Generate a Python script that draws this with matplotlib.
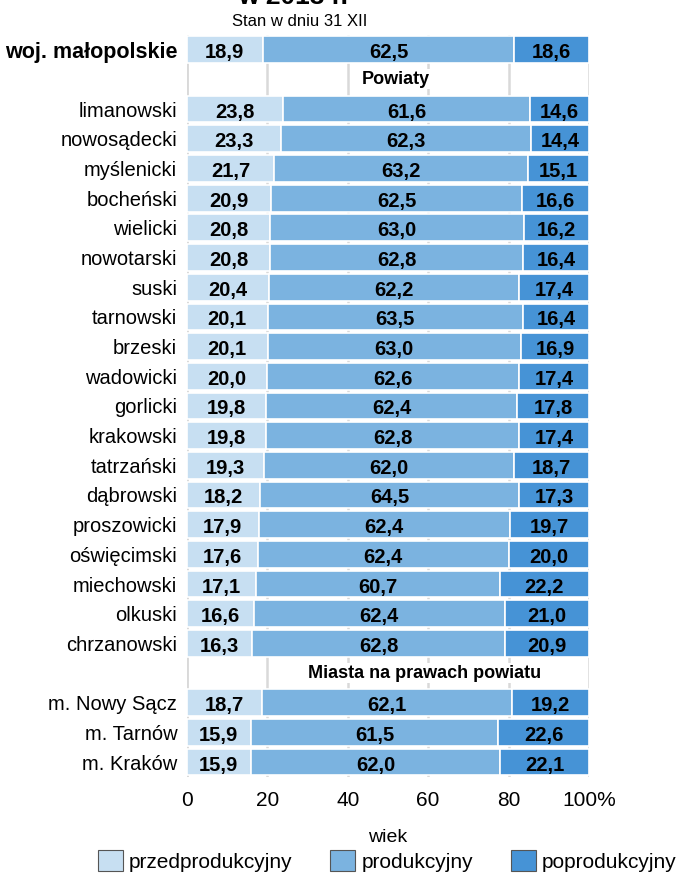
import matplotlib
matplotlib.use('Agg')
import matplotlib.pyplot as plt
from matplotlib.patches import Patch

# Rows from top to bottom; None marks a section header row
labels = ['woj. małopolskie', None,
          'limanowski', 'nowosądecki', 'myślenicki', 'bocheński', 'wielicki',
          'nowotarski', 'suski', 'tarnowski', 'brzeski', 'wadowicki',
          'gorlicki', 'krakowski', 'tatrzański', 'dąbrowski', 'proszowicki',
          'oświęcimski', 'miechowski', 'olkuski', 'chrzanowski', None,
          'm. Nowy Sącz', 'm. Tarnów', 'm. Kraków']
headers = ['Powiaty', 'Miasta na prawach powiatu']

pre = [18.9, None, 23.8, 23.3, 21.7, 20.9, 20.8, 20.8, 20.4, 20.1, 20.1, 20.0,
       19.8, 19.8, 19.3, 18.2, 17.9, 17.6, 17.1, 16.6, 16.3, None,
       18.7, 15.9, 15.9]
prod = [62.5, None, 61.6, 62.3, 63.2, 62.5, 63.0, 62.8, 62.2, 63.5, 63.0, 62.6,
        62.4, 62.8, 62.0, 64.5, 62.4, 62.4, 60.7, 62.4, 62.8, None,
        62.1, 61.5, 62.0]
post = [18.6, None, 14.6, 14.4, 15.1, 16.6, 16.2, 16.4, 17.4, 16.4, 16.9, 17.4,
        17.8, 17.4, 18.7, 17.3, 19.7, 20.0, 22.2, 21.0, 20.9, None,
        19.2, 22.6, 22.1]

series = ['przedprodukcyjny', 'produkcyjny', 'poprodukcyjny']
colors = ['#c7dff2', '#7bb3e0', '#4693d6']

plt.rcParams['font.family'] = ['Liberation Sans', 'DejaVu Sans']

fig = plt.figure(figsize=(6.77, 8.73), dpi=100)
ax = fig.add_axes([0.276, 0.110, 0.594, 0.850])

rows = [i for i, l in enumerate(labels) if l is not None]
hdr_rows = [i for i, l in enumerate(labels) if l is None]

left = [0] * len(rows)
for vals, c in zip([pre, prod, post], colors):
    w = [vals[i] for i in rows]
    ax.barh(rows, w, left=left, height=0.9, color=c, edgecolor='white',
            linewidth=1.2, zorder=2)
    for y, l0, v in zip(rows, left, w):
        ax.text(l0 + v / 2, y + 0.1, f'{v:.1f}'.replace('.', ','),
                ha='center', va='center', fontsize=14.5, fontweight='bold',
                zorder=3)
    left = [a + b for a, b in zip(left, w)]

hdr_x = [52, 59]
for y, h, x in zip(hdr_rows, headers, hdr_x):
    ax.text(x, y, h, ha='center', va='center', fontsize=13,
            fontweight='bold', zorder=3,
            bbox=dict(facecolor='white', edgecolor='none', pad=1))

ax.set_xlim(0, 100)
ax.set_ylim(len(labels) - 0.5, -0.5)
ax.set_xticks([0, 20, 40, 60, 80, 100])
ax.set_xticklabels(['0', '20', '40', '60', '80', '100%'], fontsize=15)
ax.set_yticks(rows)
ax.set_yticklabels([labels[i] for i in rows], fontsize=14.5)
ax.get_yticklabels()[0].set_fontweight('bold')
ax.get_yticklabels()[0].set_fontsize(15.5)
ax.tick_params(length=0, pad=7)
ax.tick_params(axis='x', pad=10)
ax.grid(axis='x', color='#d9d9d9', linewidth=1.8, zorder=0)
ax.axvline(0, color='#d9d9d9', linewidth=1.8, zorder=0)
for s in ax.spines.values():
    s.set_visible(False)

# title is cut off at the top edge, as in the source picture
fig.text(0.433, 1.004, 'w 2013 r.', ha='center', va='center', fontsize=19,
         fontweight='bold')
fig.text(0.443, 0.975, 'Stan w dniu 31 XII', ha='center', va='center',
         fontsize=12)

handles = [Patch(facecolor=c, edgecolor='#555555', linewidth=0.8)
           for c in colors]
fig.legend(handles, series, loc='lower center', bbox_to_anchor=(0.572, -0.02),
           ncol=3, frameon=False, title='wiek', fontsize=15,
           title_fontsize=14, handlelength=1.2, handleheight=1.2,
           columnspacing=1.8, handletextpad=0.3, labelspacing=0.2)

fig.savefig('out.png', dpi=100)
